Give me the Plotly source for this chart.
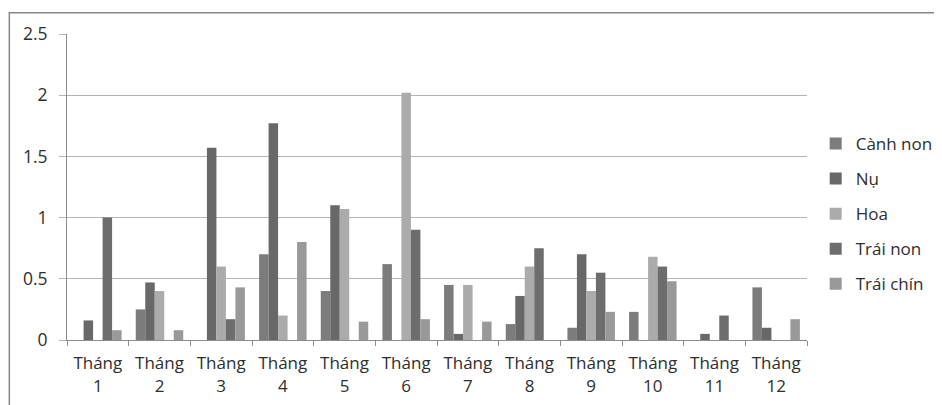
import plotly.graph_objects as go

months = [f"Tháng<br>{i}" for i in range(1, 13)]
series_names = ["Cành non", "Nụ", "Hoa", "Trái non", "Trái chín"]
canh_non = [0, 0.25, 0, 0.70, 0.40, 0.62, 0.45, 0.13, 0.10, 0.23, 0, 0.43]
nu = [0.16, 0.47, 1.57, 1.77, 1.10, 0, 0.05, 0.36, 0.70, 0, 0.05, 0.10]
hoa = [0, 0.40, 0.60, 0.20, 1.07, 2.02, 0.45, 0.60, 0.40, 0.68, 0, 0]
trai_non = [1.00, 0, 0.17, 0, 0, 0.90, 0, 0.75, 0.55, 0.60, 0.20, 0]
trai_chin = [0.08, 0.08, 0.43, 0.80, 0.15, 0.17, 0.15, 0, 0.23, 0.48, 0, 0.17]
values = [canh_non, nu, hoa, trai_non, trai_chin]
colors = ["#7c7c7c", "#686868", "#ababab", "#6d6d6d", "#999999"]

OFF = 8  # default page body margin
PAGE_W, PAGE_H = 942, 405
W, H = PAGE_W - OFF, PAGE_H - OFF
# plot area in page pixels
L, R, T, B = 66.7, 807.3, 34.3, 340.0
pw, ph = R - L, B - T

def px(x):
    return (x - L) / pw

def py(y):
    return (B - y) / ph

fig = go.Figure()
for name, vals, col in zip(series_names, values, colors):
    fig.add_trace(go.Bar(x=months, y=vals, name=name, legendgroup=name,
                         marker=dict(color=col, line=dict(width=0))))

font_family = "Open Sans"
txt = "#2e2e2e"
fig.update_layout(
    width=W, height=H,
    margin=dict(l=L - OFF, r=PAGE_W - R, t=T - OFF, b=PAGE_H - B, pad=0, autoexpand=False),
    paper_bgcolor="white", plot_bgcolor="white",
    barmode="group", bargap=0.23, bargroupgap=0,
    font=dict(family=font_family, size=17, color=txt),
    showlegend=True,
    legend=dict(x=px(816), xanchor="left", y=py(214), yanchor="middle",
                font=dict(size=17, color=txt), tracegroupgap=10,
                itemwidth=30, bgcolor="rgba(0,0,0,0)"),
    xaxis=dict(showgrid=False, showline=True, linecolor="#8c8c8c", linewidth=1,
               ticks="outside", tickson="boundaries", ticklen=5, tickcolor="#8c8c8c",
               tickfont=dict(size=17, color=txt), ticklabelstandoff=8,
               tickangle=0, automargin=False, fixedrange=True),
    yaxis=dict(range=[0, 2.5], tickvals=[0, 0.5, 1, 1.5, 2, 2.5],
               ticktext=["0", "0.5", "1", "1.5", "2", "2.5"],
               showgrid=True, gridcolor="#b3b3b3", gridwidth=1,
               showline=True, linecolor="#8c8c8c", linewidth=1,
               ticks="outside", ticklen=7, tickcolor="#b3b3b3",
               tickfont=dict(size=17.5, color=txt), ticklabelstandoff=8,
               zeroline=False, automargin=False, fixedrange=True),
    shapes=[dict(type="rect", xref="paper", yref="paper",
                 x0=px(9), x1=px(960), y0=py(420), y1=py(13),
                 line=dict(color="#868686", width=1.5), fillcolor="rgba(0,0,0,0)",
                 layer="below")],
)

fig.write_html("out.html")
